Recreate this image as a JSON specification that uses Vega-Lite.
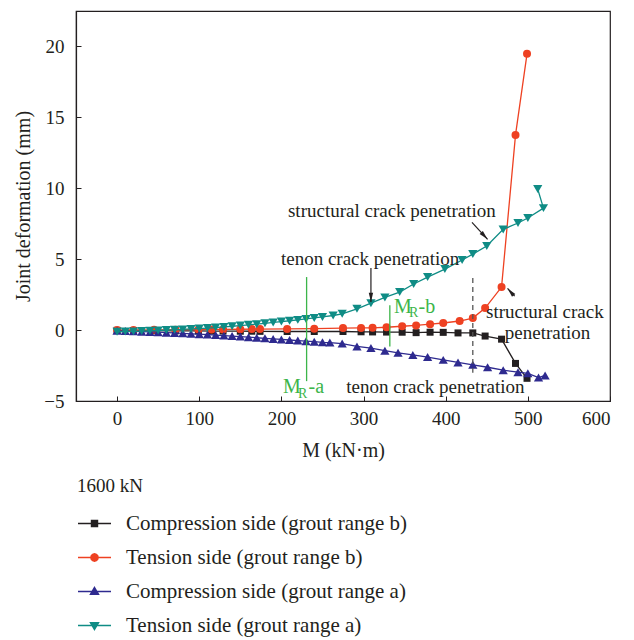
{
  "$schema": "https://vega.github.io/schema/vega-lite/v6.json",
  "width": 534,
  "height": 390,
  "autosize": {"type": "none"},
  "padding": {"left": 76, "top": 11, "right": 24, "bottom": 239},
  "config": {
    "font": "Liberation Serif",
    "view": {"stroke": "#231f20", "strokeWidth": 1.2},
    "style": {"guide-title": {"font": "Liberation Serif", "fontSize": 19, "fontWeight": "normal", "fill": "#231f20"}},
    "axis": {"grid": false, "domainColor": "#231f20", "domainWidth": 1.2, "tickColor": "#231f20", "tickSize": -5, "labelFont": "Liberation Serif", "labelFontSize": 19, "labelColor": "#231f20", "titleFont": "Liberation Serif", "titleFontSize": 20, "titleFontWeight": "normal", "titleColor": "#231f20"},
    "legend": {"titleFont": "Liberation Serif", "titleFontSize": 19, "titleFontWeight": "normal", "titleColor": "#231f20", "labelFont": "Liberation Serif", "labelFontSize": 21, "labelColor": "#231f20"}
  },
  "datasets": {
    "curves": [
      {"s": "Compression side (grout range b)", "i": 0, "m": 0, "d": -0.02},
      {"s": "Compression side (grout range b)", "i": 1, "m": 20, "d": -0.03},
      {"s": "Compression side (grout range b)", "i": 2, "m": 45, "d": -0.04},
      {"s": "Compression side (grout range b)", "i": 3, "m": 71, "d": -0.05},
      {"s": "Compression side (grout range b)", "i": 4, "m": 99, "d": -0.06},
      {"s": "Compression side (grout range b)", "i": 5, "m": 115, "d": -0.07},
      {"s": "Compression side (grout range b)", "i": 6, "m": 129, "d": -0.07},
      {"s": "Compression side (grout range b)", "i": 7, "m": 150, "d": -0.08},
      {"s": "Compression side (grout range b)", "i": 8, "m": 164, "d": -0.08},
      {"s": "Compression side (grout range b)", "i": 9, "m": 174, "d": -0.09},
      {"s": "Compression side (grout range b)", "i": 10, "m": 207, "d": -0.1},
      {"s": "Compression side (grout range b)", "i": 11, "m": 240, "d": -0.1},
      {"s": "Compression side (grout range b)", "i": 12, "m": 275, "d": -0.1},
      {"s": "Compression side (grout range b)", "i": 13, "m": 297, "d": -0.12},
      {"s": "Compression side (grout range b)", "i": 14, "m": 311, "d": -0.13},
      {"s": "Compression side (grout range b)", "i": 15, "m": 328, "d": -0.14},
      {"s": "Compression side (grout range b)", "i": 16, "m": 347, "d": -0.15},
      {"s": "Compression side (grout range b)", "i": 17, "m": 364, "d": -0.18},
      {"s": "Compression side (grout range b)", "i": 18, "m": 381, "d": -0.15},
      {"s": "Compression side (grout range b)", "i": 19, "m": 397, "d": -0.16},
      {"s": "Compression side (grout range b)", "i": 20, "m": 415, "d": -0.2},
      {"s": "Compression side (grout range b)", "i": 21, "m": 433, "d": -0.2},
      {"s": "Compression side (grout range b)", "i": 22, "m": 448, "d": -0.42},
      {"s": "Compression side (grout range b)", "i": 23, "m": 468, "d": -0.64},
      {"s": "Compression side (grout range b)", "i": 24, "m": 485, "d": -2.35},
      {"s": "Compression side (grout range b)", "i": 25, "m": 499, "d": -3.4},
      {"s": "Tension side (grout range b)", "i": 0, "m": 0, "d": 0.0},
      {"s": "Tension side (grout range b)", "i": 1, "m": 20, "d": 0.0},
      {"s": "Tension side (grout range b)", "i": 2, "m": 45, "d": 0.02},
      {"s": "Tension side (grout range b)", "i": 3, "m": 71, "d": 0.03},
      {"s": "Tension side (grout range b)", "i": 4, "m": 99, "d": 0.04},
      {"s": "Tension side (grout range b)", "i": 5, "m": 115, "d": 0.05},
      {"s": "Tension side (grout range b)", "i": 6, "m": 129, "d": 0.05},
      {"s": "Tension side (grout range b)", "i": 7, "m": 150, "d": 0.06},
      {"s": "Tension side (grout range b)", "i": 8, "m": 164, "d": 0.07},
      {"s": "Tension side (grout range b)", "i": 9, "m": 174, "d": 0.07},
      {"s": "Tension side (grout range b)", "i": 10, "m": 207, "d": 0.08},
      {"s": "Tension side (grout range b)", "i": 11, "m": 240, "d": 0.1},
      {"s": "Tension side (grout range b)", "i": 12, "m": 275, "d": 0.14},
      {"s": "Tension side (grout range b)", "i": 13, "m": 297, "d": 0.15},
      {"s": "Tension side (grout range b)", "i": 14, "m": 311, "d": 0.16},
      {"s": "Tension side (grout range b)", "i": 15, "m": 328, "d": 0.2},
      {"s": "Tension side (grout range b)", "i": 16, "m": 347, "d": 0.27},
      {"s": "Tension side (grout range b)", "i": 17, "m": 364, "d": 0.33},
      {"s": "Tension side (grout range b)", "i": 18, "m": 381, "d": 0.42},
      {"s": "Tension side (grout range b)", "i": 19, "m": 397, "d": 0.5},
      {"s": "Tension side (grout range b)", "i": 20, "m": 417, "d": 0.64},
      {"s": "Tension side (grout range b)", "i": 21, "m": 433, "d": 0.85},
      {"s": "Tension side (grout range b)", "i": 22, "m": 448, "d": 1.55},
      {"s": "Tension side (grout range b)", "i": 23, "m": 468, "d": 3.03},
      {"s": "Tension side (grout range b)", "i": 24, "m": 485, "d": 13.76},
      {"s": "Tension side (grout range b)", "i": 25, "m": 499, "d": 19.48},
      {"s": "Compression side (grout range a)", "i": 0, "m": 0, "d": -0.05},
      {"s": "Compression side (grout range a)", "i": 1, "m": 10, "d": -0.07},
      {"s": "Compression side (grout range a)", "i": 2, "m": 20, "d": -0.09},
      {"s": "Compression side (grout range a)", "i": 3, "m": 30, "d": -0.11},
      {"s": "Compression side (grout range a)", "i": 4, "m": 40, "d": -0.13},
      {"s": "Compression side (grout range a)", "i": 5, "m": 50, "d": -0.15},
      {"s": "Compression side (grout range a)", "i": 6, "m": 60, "d": -0.18},
      {"s": "Compression side (grout range a)", "i": 7, "m": 70, "d": -0.2},
      {"s": "Compression side (grout range a)", "i": 8, "m": 80, "d": -0.23},
      {"s": "Compression side (grout range a)", "i": 9, "m": 90, "d": -0.26},
      {"s": "Compression side (grout range a)", "i": 10, "m": 100, "d": -0.29},
      {"s": "Compression side (grout range a)", "i": 11, "m": 110, "d": -0.32},
      {"s": "Compression side (grout range a)", "i": 12, "m": 120, "d": -0.35},
      {"s": "Compression side (grout range a)", "i": 13, "m": 130, "d": -0.39},
      {"s": "Compression side (grout range a)", "i": 14, "m": 140, "d": -0.42},
      {"s": "Compression side (grout range a)", "i": 15, "m": 150, "d": -0.46},
      {"s": "Compression side (grout range a)", "i": 16, "m": 160, "d": -0.5},
      {"s": "Compression side (grout range a)", "i": 17, "m": 170, "d": -0.54},
      {"s": "Compression side (grout range a)", "i": 18, "m": 180, "d": -0.58},
      {"s": "Compression side (grout range a)", "i": 19, "m": 190, "d": -0.62},
      {"s": "Compression side (grout range a)", "i": 20, "m": 200, "d": -0.66},
      {"s": "Compression side (grout range a)", "i": 21, "m": 210, "d": -0.7},
      {"s": "Compression side (grout range a)", "i": 22, "m": 220, "d": -0.74},
      {"s": "Compression side (grout range a)", "i": 23, "m": 230, "d": -0.78},
      {"s": "Compression side (grout range a)", "i": 24, "m": 240, "d": -0.82},
      {"s": "Compression side (grout range a)", "i": 25, "m": 250, "d": -0.86},
      {"s": "Compression side (grout range a)", "i": 26, "m": 259, "d": -0.88},
      {"s": "Compression side (grout range a)", "i": 27, "m": 274, "d": -0.95},
      {"s": "Compression side (grout range a)", "i": 28, "m": 292, "d": -1.15},
      {"s": "Compression side (grout range a)", "i": 29, "m": 309, "d": -1.27},
      {"s": "Compression side (grout range a)", "i": 30, "m": 326, "d": -1.45},
      {"s": "Compression side (grout range a)", "i": 31, "m": 342, "d": -1.6},
      {"s": "Compression side (grout range a)", "i": 32, "m": 360, "d": -1.75},
      {"s": "Compression side (grout range a)", "i": 33, "m": 378, "d": -1.9},
      {"s": "Compression side (grout range a)", "i": 34, "m": 397, "d": -2.1},
      {"s": "Compression side (grout range a)", "i": 35, "m": 415, "d": -2.28},
      {"s": "Compression side (grout range a)", "i": 36, "m": 433, "d": -2.45},
      {"s": "Compression side (grout range a)", "i": 37, "m": 451, "d": -2.62},
      {"s": "Compression side (grout range a)", "i": 38, "m": 470, "d": -2.83},
      {"s": "Compression side (grout range a)", "i": 39, "m": 488, "d": -2.97},
      {"s": "Compression side (grout range a)", "i": 40, "m": 500, "d": -3.05},
      {"s": "Compression side (grout range a)", "i": 41, "m": 513, "d": -3.35},
      {"s": "Compression side (grout range a)", "i": 42, "m": 521, "d": -3.2},
      {"s": "Tension side (grout range a)", "i": 0, "m": 0, "d": -0.12},
      {"s": "Tension side (grout range a)", "i": 1, "m": 10, "d": -0.1},
      {"s": "Tension side (grout range a)", "i": 2, "m": 20, "d": -0.09},
      {"s": "Tension side (grout range a)", "i": 3, "m": 30, "d": -0.07},
      {"s": "Tension side (grout range a)", "i": 4, "m": 40, "d": -0.05},
      {"s": "Tension side (grout range a)", "i": 5, "m": 50, "d": -0.03},
      {"s": "Tension side (grout range a)", "i": 6, "m": 60, "d": 0.0},
      {"s": "Tension side (grout range a)", "i": 7, "m": 70, "d": 0.02},
      {"s": "Tension side (grout range a)", "i": 8, "m": 80, "d": 0.05},
      {"s": "Tension side (grout range a)", "i": 9, "m": 90, "d": 0.08},
      {"s": "Tension side (grout range a)", "i": 10, "m": 100, "d": 0.11},
      {"s": "Tension side (grout range a)", "i": 11, "m": 110, "d": 0.14},
      {"s": "Tension side (grout range a)", "i": 12, "m": 120, "d": 0.18},
      {"s": "Tension side (grout range a)", "i": 13, "m": 130, "d": 0.22},
      {"s": "Tension side (grout range a)", "i": 14, "m": 140, "d": 0.27},
      {"s": "Tension side (grout range a)", "i": 15, "m": 150, "d": 0.32},
      {"s": "Tension side (grout range a)", "i": 16, "m": 160, "d": 0.37},
      {"s": "Tension side (grout range a)", "i": 17, "m": 170, "d": 0.42},
      {"s": "Tension side (grout range a)", "i": 18, "m": 180, "d": 0.48},
      {"s": "Tension side (grout range a)", "i": 19, "m": 190, "d": 0.54},
      {"s": "Tension side (grout range a)", "i": 20, "m": 200, "d": 0.6},
      {"s": "Tension side (grout range a)", "i": 21, "m": 210, "d": 0.66},
      {"s": "Tension side (grout range a)", "i": 22, "m": 220, "d": 0.72},
      {"s": "Tension side (grout range a)", "i": 23, "m": 230, "d": 0.79},
      {"s": "Tension side (grout range a)", "i": 24, "m": 240, "d": 0.86},
      {"s": "Tension side (grout range a)", "i": 25, "m": 250, "d": 0.93},
      {"s": "Tension side (grout range a)", "i": 26, "m": 263, "d": 1.03},
      {"s": "Tension side (grout range a)", "i": 27, "m": 274, "d": 1.15},
      {"s": "Tension side (grout range a)", "i": 28, "m": 292, "d": 1.5},
      {"s": "Tension side (grout range a)", "i": 29, "m": 309, "d": 1.9},
      {"s": "Tension side (grout range a)", "i": 30, "m": 326, "d": 2.3},
      {"s": "Tension side (grout range a)", "i": 31, "m": 344, "d": 2.68},
      {"s": "Tension side (grout range a)", "i": 32, "m": 361, "d": 3.25},
      {"s": "Tension side (grout range a)", "i": 33, "m": 378, "d": 3.74},
      {"s": "Tension side (grout range a)", "i": 34, "m": 399, "d": 4.3},
      {"s": "Tension side (grout range a)", "i": 35, "m": 420, "d": 4.94},
      {"s": "Tension side (grout range a)", "i": 36, "m": 433, "d": 5.36},
      {"s": "Tension side (grout range a)", "i": 37, "m": 450, "d": 5.93},
      {"s": "Tension side (grout range a)", "i": 38, "m": 470, "d": 7.1},
      {"s": "Tension side (grout range a)", "i": 39, "m": 488, "d": 7.55},
      {"s": "Tension side (grout range a)", "i": 40, "m": 500, "d": 7.9},
      {"s": "Tension side (grout range a)", "i": 41, "m": 519, "d": 8.6},
      {"s": "Tension side (grout range a)", "i": 42, "m": 512, "d": 9.95}
    ],
    "notes": [
      {"t": "structural crack penetration", "m": 334.5, "d": 8.4},
      {"t": "tenon crack penetration", "m": 308, "d": 5.0},
      {"t": "structural crack", "m": 520.7, "d": 1.27},
      {"t": "penetration", "m": 524, "d": -0.21},
      {"t": "tenon crack penetration", "m": 387.5, "d": -4.0}
    ],
    "arrows": [
      {"m": 432, "d": 7.6, "m2": 451, "d2": 6.4, "a": 137},
      {"m": 309, "d": 4.38, "m2": 309, "d2": 1.98, "a": 180},
      {"m": 483.9, "d": 2.4, "m2": 475.3, "d2": 2.94, "a": 319}
    ],
    "greenLines": [
      {"m": 230.7, "d": 3.74, "d2": -3.6},
      {"m": 332, "d": 1.75, "d2": -1.15}
    ],
    "greenBig": [
      {"t": "M", "m": 202, "d": -4.0},
      {"t": "-a", "m": 233, "d": -4.0},
      {"t": "M", "m": 337, "d": 1.65},
      {"t": "-b", "m": 367, "d": 1.65}
    ],
    "greenSub": [
      {"t": "R", "m": 220.2, "d": -4.5},
      {"t": "R", "m": 355.2, "d": 1.2}
    ],
    "dashed": [
      {"m": 433, "d": 3.67, "d2": -3.0}
    ]
  },
  "encoding": {
    "x": {"field": "m", "type": "quantitative", "title": "M (kN·m)",
      "scale": {"domain": [-50, 600], "nice": false, "zero": false},
      "axis": {"values": [0, 100, 200, 300, 400, 500, 600], "labelPadding": 13, "titlePadding": 12}},
    "y": {"field": "d", "type": "quantitative", "title": "Joint deformation (mm)",
      "scale": {"domain": [-5, 22.5], "nice": false, "zero": false},
      "axis": {"values": [-5, 0, 5, 10, 15, 20], "labelPadding": 17, "titlePadding": 10}}
  },
  "layer": [
    {
      "data": {"name": "curves"},
      "transform": [{"filter": "datum.s === 'Compression side (grout range b)'"}],
      "mark": {"type": "line", "color": "#231f20", "strokeWidth": 1.3, "point": {"shape": "square", "filled": true, "size": 49, "color": "#231f20", "opacity": 1}},
      "encoding": {"order": {"field": "i", "type": "quantitative"}}
    },
    {
      "data": {"name": "curves"},
      "transform": [{"filter": "datum.s === 'Tension side (grout range b)'"}],
      "mark": {"type": "line", "color": "#ee4122", "strokeWidth": 1.3, "point": {"shape": "circle", "filled": true, "size": 64, "color": "#ee4122", "opacity": 1}},
      "encoding": {"order": {"field": "i", "type": "quantitative"}}
    },
    {
      "data": {"name": "curves"},
      "transform": [{"filter": "datum.s === 'Compression side (grout range a)'"}],
      "mark": {"type": "line", "color": "#2e2a8f", "strokeWidth": 1.3, "point": {"shape": "triangle-up", "filled": true, "size": 85, "color": "#2e2a8f", "opacity": 1}},
      "encoding": {"order": {"field": "i", "type": "quantitative"}}
    },
    {
      "data": {"name": "curves"},
      "transform": [{"filter": "datum.s === 'Tension side (grout range a)'"}],
      "mark": {"type": "line", "color": "#0f8c85", "strokeWidth": 1.3, "point": {"shape": "triangle-down", "filled": true, "size": 85, "color": "#0f8c85", "opacity": 1}},
      "encoding": {"order": {"field": "i", "type": "quantitative"}}
    },
    {
      "data": {"name": "curves"},
      "transform": [{"filter": "datum.i < 0"}],
      "mark": {"type": "point", "filled": false, "strokeWidth": 1.5},
      "encoding": {
        "fill": {"field": "s", "type": "nominal",
          "scale": {"domain": ["Compression side (grout range b)", "Tension side (grout range b)", "Compression side (grout range a)", "Tension side (grout range a)"],
            "range": ["#231f20", "#ee4122", "#2e2a8f", "#0f8c85"]},
          "legend": {"orient": "none", "legendX": 1, "legendY": 466, "title": "1600 kN", "titleFont": "Liberation Serif", "titleFontSize": 19, "titleFontWeight": "normal", "titleColor": "#231f20", "titlePadding": 10,
            "labelFont": "Liberation Serif", "labelFontSize": 21, "labelColor": "#231f20", "labelOffset": 14, "symbolSize": 1089, "symbolStrokeWidth": 1.5, "symbolOpacity": 1, "rowPadding": 6, "labelLimit": 400}},
        "stroke": {"field": "s", "type": "nominal",
          "scale": {"domain": ["Compression side (grout range b)", "Tension side (grout range b)", "Compression side (grout range a)", "Tension side (grout range a)"],
            "range": ["#231f20", "#ee4122", "#2e2a8f", "#0f8c85"]},
          "legend": {"orient": "none", "legendX": 1, "legendY": 466, "title": "1600 kN", "titleFont": "Liberation Serif", "titleFontSize": 19, "titleFontWeight": "normal", "titleColor": "#231f20", "titlePadding": 10,
            "labelFont": "Liberation Serif", "labelFontSize": 21, "labelColor": "#231f20", "labelOffset": 14, "symbolSize": 1089, "symbolStrokeWidth": 1.5, "symbolOpacity": 1, "rowPadding": 6, "labelLimit": 400}},
        "shape": {"field": "s", "type": "nominal",
          "scale": {"domain": ["Compression side (grout range b)", "Tension side (grout range b)", "Compression side (grout range a)", "Tension side (grout range a)"],
            "range": ["M-1,0H1M-0.18,-0.18H0.18V0.18H-0.18Z", "M-1,0H1M-0.22,0L-0.19,0.11L-0.11,0.19L0,0.22L0.11,0.19L0.19,0.11L0.22,0L0.19,-0.11L0.11,-0.19L0,-0.22L-0.11,-0.19L-0.19,-0.11Z", "M-1,0H1M0,-0.24L0.24,0.17L-0.24,0.17Z", "M-1,0H1M0,0.24L0.24,-0.17L-0.24,-0.17Z"]},
          "legend": {"orient": "none", "legendX": 1, "legendY": 466, "title": "1600 kN", "titleFont": "Liberation Serif", "titleFontSize": 19, "titleFontWeight": "normal", "titleColor": "#231f20", "titlePadding": 10,
            "labelFont": "Liberation Serif", "labelFontSize": 21, "labelColor": "#231f20", "labelOffset": 14, "symbolSize": 1089, "symbolStrokeWidth": 1.5, "symbolOpacity": 1, "rowPadding": 6, "labelLimit": 400}}
      }
    },
    {
      "data": {"name": "greenLines"},
      "mark": {"type": "rule", "color": "#3cb54a", "strokeWidth": 1.3},
      "encoding": {"y2": {"field": "d2"}}
    },
    {
      "data": {"name": "dashed"},
      "mark": {"type": "rule", "color": "#555555", "strokeWidth": 1.3, "strokeDash": [5, 4]},
      "encoding": {"y2": {"field": "d2"}}
    },
    {
      "data": {"name": "arrows"},
      "mark": {"type": "rule", "color": "#231f20", "strokeWidth": 1.2},
      "encoding": {"x2": {"field": "m2"}, "y2": {"field": "d2"}}
    },
    {
      "data": {"name": "arrows"},
      "mark": {"type": "point", "filled": true, "color": "#231f20", "opacity": 1, "size": 120, "shape": "M0,0L0.4,1.7L-0.4,1.7Z"},
      "encoding": {"x": {"field": "m2", "type": "quantitative"}, "y": {"field": "d2", "type": "quantitative"}, "angle": {"field": "a", "type": "quantitative", "scale": null}}
    },
    {
      "data": {"name": "notes"},
      "mark": {"type": "text", "fontSize": 19, "color": "#231f20", "baseline": "middle", "align": "center"},
      "encoding": {"text": {"field": "t"}}
    },
    {
      "data": {"name": "greenBig"},
      "mark": {"type": "text", "fontSize": 20, "color": "#3cb54a", "baseline": "middle", "align": "left"},
      "encoding": {"text": {"field": "t"}}
    },
    {
      "data": {"name": "greenSub"},
      "mark": {"type": "text", "fontSize": 14, "color": "#3cb54a", "baseline": "middle", "align": "left"},
      "encoding": {"text": {"field": "t"}}
    }
  ]
}
